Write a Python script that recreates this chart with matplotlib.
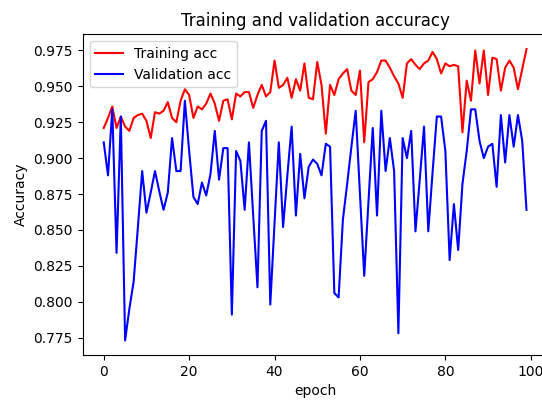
import matplotlib
matplotlib.use("Agg")
import matplotlib.pyplot as plt

epochs = list(range(100))

train_acc = [
    0.921, 0.928, 0.936, 0.921, 0.929, 0.922, 0.919, 0.928, 0.930, 0.931,
    0.926, 0.914, 0.932, 0.931, 0.933, 0.939, 0.928, 0.925, 0.940, 0.948,
    0.944, 0.928, 0.936, 0.934, 0.938, 0.945, 0.938, 0.926, 0.940, 0.941,
    0.927, 0.945, 0.943, 0.946, 0.946, 0.935, 0.944, 0.951, 0.943, 0.946,
    0.968, 0.949, 0.951, 0.956, 0.942, 0.955, 0.947, 0.966, 0.942, 0.941,
    0.967, 0.951, 0.917, 0.951, 0.944, 0.955, 0.959, 0.962, 0.947, 0.944,
    0.961, 0.911, 0.953, 0.955, 0.960, 0.968, 0.968, 0.963, 0.957, 0.952,
    0.942, 0.966, 0.969, 0.965, 0.962, 0.966, 0.968, 0.974, 0.969, 0.959,
    0.966, 0.964, 0.965, 0.964, 0.918, 0.954, 0.940, 0.975, 0.952, 0.975,
    0.944, 0.970, 0.969, 0.947, 0.963, 0.968, 0.963, 0.948, 0.962, 0.976,
]

val_acc = [
    0.911, 0.888, 0.934, 0.834, 0.929, 0.773, 0.795, 0.814, 0.852, 0.891,
    0.862, 0.876, 0.891, 0.877, 0.864, 0.876, 0.914, 0.891, 0.891, 0.940,
    0.905, 0.873, 0.868, 0.883, 0.874, 0.889, 0.919, 0.885, 0.907, 0.907,
    0.791, 0.905, 0.898, 0.864, 0.911, 0.860, 0.810, 0.919, 0.926, 0.798,
    0.855, 0.911, 0.852, 0.888, 0.922, 0.860, 0.903, 0.872, 0.894, 0.899,
    0.896, 0.888, 0.910, 0.908, 0.806, 0.803, 0.857, 0.882, 0.908, 0.933,
    0.875, 0.818, 0.870, 0.921, 0.860, 0.933, 0.891, 0.914, 0.891, 0.778,
    0.914, 0.900, 0.919, 0.849, 0.885, 0.922, 0.849, 0.890, 0.929, 0.929,
    0.905, 0.829, 0.868, 0.836, 0.882, 0.905, 0.934, 0.934, 0.912, 0.900,
    0.908, 0.910, 0.880, 0.930, 0.897, 0.930, 0.908, 0.930, 0.912, 0.864,
]

fig = plt.figure(figsize=(5.42, 4.01), dpi=100)
ax = fig.add_axes([0.1524, 0.1147, 0.858, 0.7993])
ax.plot(epochs, train_acc, color="r", linewidth=1.5, label="Training acc")
ax.plot(epochs, val_acc, color="b", linewidth=1.5, label="Validation acc")
ax.set_title("Training and validation accuracy", fontsize=12)
ax.set_xlabel("epoch", fontsize=10)
ax.set_ylabel("Accuracy", fontsize=10)
ax.tick_params(labelsize=10)
ax.legend(loc="upper left", fontsize=10)
fig.savefig("out.png", dpi=100)
